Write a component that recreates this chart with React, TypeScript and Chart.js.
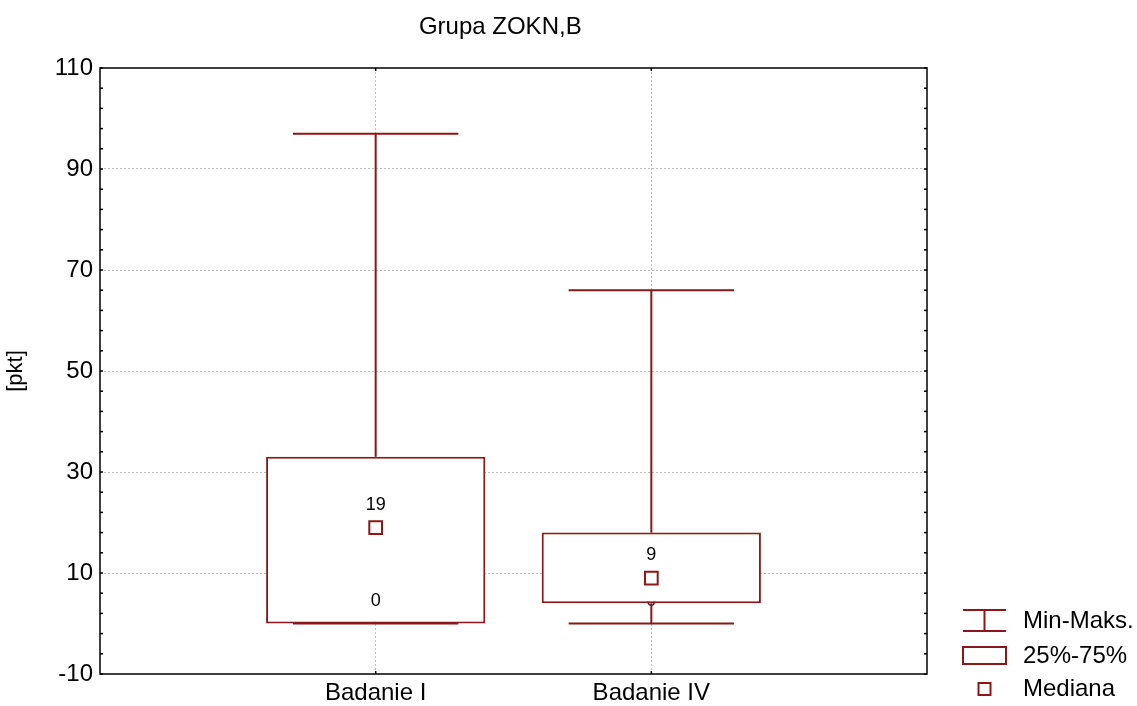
import React, { useEffect, useRef } from 'react';
import { Chart, registerables } from 'chart.js';

Chart.register(...registerables);

const chartTitle = 'Grupa ZOKN,B';
const yAxisTitle = '[pkt]';
const categories = ['Badanie I', 'Badanie IV'];
const categoryPositions = [1, 2];
const minValues = [0, 0];
const q1Values = [0, 4];
const medianValues = [19, 9];
const q3Values = [33, 18];
const maxValues = [97, 66];
const yMin = -10;
const yMax = 110;
const yMajorStep = 20;
const yMinorStep = 4;
const legendLabels = ['Min-Maks.', '25%-75%', 'Mediana'];

const RED = '#8b1717';
const GRID = '#bdbdbd';
const FONT = '"Liberation Sans", Arial, Helvetica, sans-serif';
const CAP_HALF = 0.3;

const isMajor = (v: number) => (((v - yMin) % yMajorStep) + yMajorStep) % yMajorStep === 0;

function buildWhiskers() {
  const pts: { x: number; y: number | null }[] = [];
  categoryPositions.forEach((c, i) => {
    pts.push({ x: c, y: q3Values[i] }, { x: c, y: maxValues[i] }, { x: c, y: null });
    pts.push({ x: c - CAP_HALF, y: maxValues[i] }, { x: c + CAP_HALF, y: maxValues[i] }, { x: c, y: null });
    pts.push({ x: c, y: q1Values[i] }, { x: c, y: minValues[i] }, { x: c, y: null });
    pts.push({ x: c - CAP_HALF, y: minValues[i] }, { x: c + CAP_HALF, y: minValues[i] }, { x: c, y: null });
  });
  return pts;
}

function drawValueLabels(chart: any, layer: 'behind' | 'front') {
  const { ctx, scales } = chart;
  ctx.save();
  ctx.font = `18px ${FONT}`;
  ctx.fillStyle = '#000';
  ctx.textAlign = 'center';
  ctx.textBaseline = 'middle';
  categoryPositions.forEach((c, i) => {
    const px = scales.x.getPixelForValue(c);
    if (layer === 'front') {
      ctx.fillText(String(medianValues[i]), px, scales.y.getPixelForValue(medianValues[i]) - 23);
    }
    const ly = scales.y.getPixelForValue(minValues[i]) - 22;
    const boxBottom = scales.y.getPixelForValue(q1Values[i]);
    const crossesBox = Math.abs(ly - boxBottom) < 8;
    if ((crossesBox && layer === 'behind') || (!crossesBox && layer === 'front')) {
      ctx.fillText(String(minValues[i]), px, ly);
    }
  });
  ctx.restore();
}

const decorPlugin = {
  id: 'decor',
  beforeDatasetsDraw(chart: any) {
    drawValueLabels(chart, 'behind');
  },
  afterDatasetsDraw(chart: any) {
    const { ctx, chartArea: a, scales } = chart;
    const line = (x1: number, y1: number, x2: number, y2: number) => {
      ctx.beginPath();
      ctx.moveTo(x1, y1);
      ctx.lineTo(x2, y2);
      ctx.stroke();
    };
    ctx.save();
    ctx.strokeStyle = '#000';
    ctx.lineWidth = 1.5;
    ctx.strokeRect(a.left, a.top, a.width, a.height);
    for (const t of scales.y.ticks) {
      const py = scales.y.getPixelForValue(t.value);
      line(a.left, py, a.left + 3, py);
      line(a.right - 3, py, a.right, py);
    }
    for (const c of categoryPositions) {
      const px = scales.x.getPixelForValue(c);
      line(px, a.bottom, px, a.bottom - 3);
      line(px, a.top, px, a.top + 3);
    }
    ctx.restore();

    drawValueLabels(chart, 'front');

    // title
    ctx.save();
    ctx.font = `24px ${FONT}`;
    ctx.fillStyle = '#000';
    ctx.textAlign = 'center';
    ctx.textBaseline = 'middle';
    ctx.fillText(chartTitle, chart.width * 0.44, 27);
    ctx.restore();

    // legend
    const lx = a.right + 36;
    const sw = 43;
    const tx = a.right + 96;
    const rows = [621, 656, 689];
    ctx.save();
    ctx.strokeStyle = RED;
    ctx.lineWidth = 2;
    line(lx, 610, lx + sw, 610);
    line(lx, 631, lx + sw, 631);
    line(lx + sw / 2, 610, lx + sw / 2, 631);
    ctx.fillStyle = '#fff';
    ctx.fillRect(lx, 647, sw, 17);
    ctx.strokeRect(lx, 647, sw, 17);
    ctx.strokeRect(lx + sw / 2 - 6, rows[2] - 6, 12, 12);
    ctx.font = `24px ${FONT}`;
    ctx.fillStyle = '#000';
    ctx.textAlign = 'left';
    ctx.textBaseline = 'middle';
    legendLabels.forEach((l, i) => ctx.fillText(l, tx, rows[i]));
    ctx.restore();
  },
};

export default function App() {
  const ref = useRef<HTMLCanvasElement | null>(null);
  useEffect(() => {
    if (!ref.current) return;
    const chart = new Chart(ref.current, {
      type: 'bar',
      data: {
        datasets: [
          {
            type: 'line',
            label: 'Mediana',
            data: categoryPositions.map((c, i) => ({ x: c, y: medianValues[i] })),
            showLine: false,
            pointStyle: 'rect',
            pointRadius: 9,
            pointHoverRadius: 9,
            pointBackgroundColor: '#fff',
            pointBorderColor: RED,
            pointBorderWidth: 2,
            order: 0,
          } as any,
          {
            type: 'bar',
            label: '25%-75%',
            data: categoryPositions.map((c, i) => ({ x: c, y: [q1Values[i], q3Values[i]] })),
            backgroundColor: '#fff',
            borderColor: RED,
            borderWidth: 2,
            borderSkipped: false,
            categoryPercentage: 1,
            barPercentage: 0.795,
            order: 1,
          } as any,
          {
            type: 'line',
            label: 'Min-Maks.',
            data: buildWhiskers(),
            borderColor: RED,
            borderWidth: 2,
            pointRadius: 0,
            pointHoverRadius: 0,
            spanGaps: false,
            tension: 0,
            order: 2,
          } as any,
        ],
      },
      options: {
        animation: false,
        responsive: false,
        events: [],
        layout: { padding: { top: 68, right: 210, left: 0, bottom: 0 } },
        plugins: {
          legend: { display: false },
          tooltip: { enabled: false },
          title: { display: false },
        },
        scales: {
          x: {
            type: 'linear',
            min: 0,
            max: 3,
            offset: false,
            afterFit: (s: any) => {
              s.height = 32;
            },
            ticks: {
              stepSize: 1,
              autoSkip: false,
              maxRotation: 0,
              padding: 5,
              color: '#000',
              font: { family: FONT, size: 24 },
              callback: (v: any) => {
                const i = categoryPositions.indexOf(Number(v));
                return i >= 0 ? categories[i] : '';
              },
            },
            grid: {
              offset: false,
              drawTicks: false,
              lineWidth: 1,
              color: (ctx: any) =>
                ctx.tick && categoryPositions.includes(ctx.tick.value) ? GRID : 'rgba(0,0,0,0)',
            },
            border: { display: false, dash: [2, 2] },
          },
          y: {
            type: 'linear',
            min: yMin,
            max: yMax,
            afterFit: (s: any) => {
              s.width = 100;
            },
            ticks: {
              stepSize: yMinorStep,
              autoSkip: false,
              maxTicksLimit: 1000,
              padding: 7,
              color: '#000',
              font: { family: FONT, size: 24 },
              callback: (v: any) => (isMajor(Number(v)) ? String(v) : ''),
            },
            grid: {
              drawTicks: false,
              lineWidth: 1,
              color: (ctx: any) => {
                const v = ctx.tick ? ctx.tick.value : NaN;
                return isMajor(v) && v !== yMin && v !== yMax ? GRID : 'rgba(0,0,0,0)';
              },
            },
            border: { display: false, dash: [2, 2] },
            title: {
              display: true,
              text: yAxisTitle,
              color: '#000',
              font: { family: FONT, size: 22 },
              padding: { top: 3, bottom: 0 },
            },
          },
        },
      },
      plugins: [decorPlugin],
    } as any);
    return () => chart.destroy();
  }, []);
  return (
    <div style={{ position: 'absolute', left: 0, top: 0, width: 1137, height: 706 }}>
      <canvas ref={ref} width={1137} height={706} style={{ display: 'block' }} />
    </div>
  );
}
